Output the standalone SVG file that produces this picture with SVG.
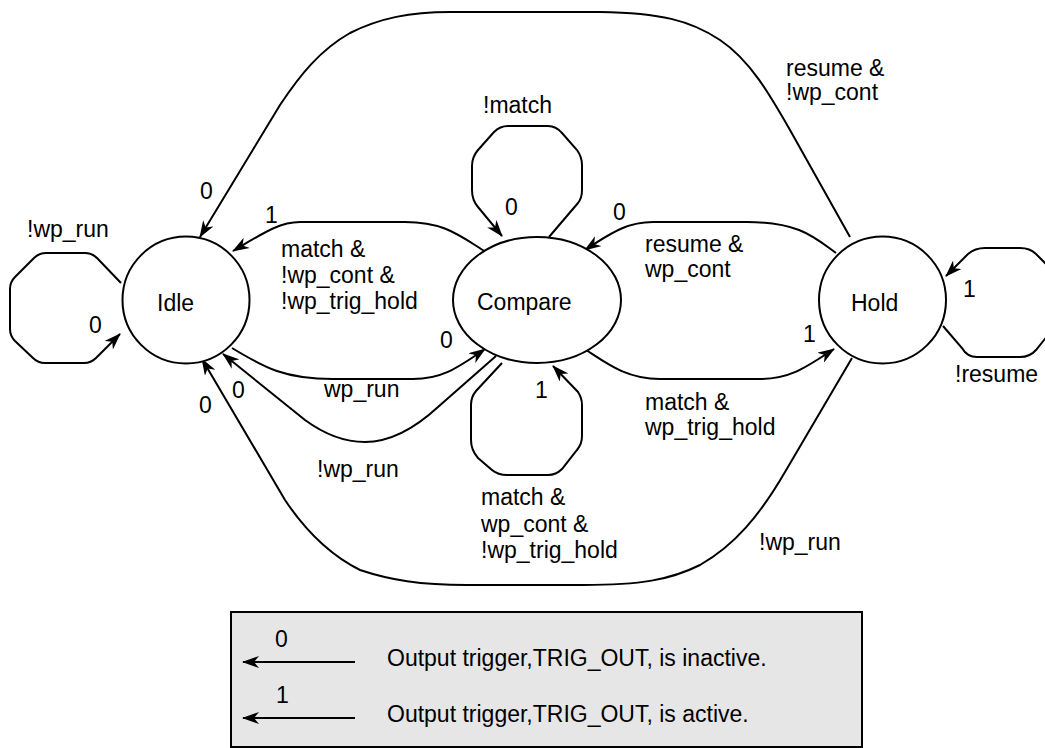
<svg xmlns="http://www.w3.org/2000/svg" width="1045" height="748" viewBox="0 0 1045 748">
<style>
text{font-family:"Liberation Sans",Arial,sans-serif;font-size:23px;fill:#000}
.node{fill:#fff;stroke:#000;stroke-width:2}
.edge{fill:none;stroke:#000;stroke-width:2;marker-end:url(#ah)}
</style>
<defs>
<marker id="ah" markerUnits="userSpaceOnUse" markerWidth="18" markerHeight="12" refX="16" refY="6" orient="auto">
<path d="M0,0 L17,6 L0,12 L5,6 z" fill="#000"/>
</marker>
</defs>
<rect width="1045" height="748" fill="#fff"/>
<g id="connectors">
<path class="edge" d="M121,283 L97,258 Q92,253 85,253 L46,253 Q39,253 34,258 L15,277 Q10,282 10,289 L10,329 Q10,336 15,341 L33,358 Q38,363 45,363 L84,363 Q91,363 96,358 L120,334"/>
<path class="edge" d="M549,237 L578,203 Q582,198 582,190 L582,165 Q582,157 577,150 L562,133 Q556,126 548,126 L508,126 Q500,126 494,132 L478,150 Q472,157 472,166 L472,190 Q472,200 478,207 L502,236"/>
<path class="edge" d="M502,363 L476,391 Q471,397 471,405 L471,440 Q471,450 478,458 L492,470 Q498,475 507,475 L548,475 Q556,475 562,469 L577,450 Q582,444 582,436 L582,405 Q582,398 578,392 L553,366"/>
<path class="edge" d="M943,326 L962,348 Q967,357 977,357 L1020,357 Q1030,357 1036,350 L1048,335 L1052,300 L1048,266 L1036,254 Q1030,248 1020,248 L985,248 Q975,248 968,254 L946,276"/>
<path class="edge" d="M486,252 C460,236 445,222 405,222 L300,222 C280,222 265,232 233,251"/>
<path class="edge" d="M232,348 C265,368 285,379 333,379 L413,379 C440,379 455,370 485,349"/>
<path class="edge" d="M496,356 L438,407 Q400,442 365,442 Q335,442 305,420 L223,354"/>
<path class="edge" d="M836,253 C815,238 800,222 747,222 L653,222 C630,222 615,230 585,250"/>
<path class="edge" d="M583,348 C605,362 625,379 660,379 L760,379 C790,379 805,368 834,349"/>
<path class="edge" d="M850,237 L790,130 C770,95 750,60 720,40 C690,20 660,13 600,12 L450,12 C410,12 380,18 350,33 C320,50 300,75 280,105 L200,237"/>
<path class="edge" d="M852,358 L785,472 C760,515 735,545 700,565 C670,580 640,585 583,585 L467,585 C420,585 390,580 360,570 C330,555 305,530 285,500 L202,359"/>
</g>
<g id="idle"><circle class="node" cx="186" cy="300" r="63.5"/><text x="157" y="311">Idle</text></g>
<g id="compare"><ellipse class="node" cx="537" cy="300" rx="84" ry="63"/><text x="477" y="310">Compare</text></g>
<g id="hold"><circle class="node" cx="882.5" cy="300" r="63.5"/><text x="851" y="311">Hold</text></g>
<g id="labels">
<text x="27" y="237">!wp_run</text>
<text x="89" y="333">0</text>
<text x="200" y="199">0</text>
<text x="265" y="223">1</text>
<text x="281" y="257">match &amp;</text>
<text x="281" y="283">!wp_cont &amp;</text>
<text x="281" y="309">!wp_trig_hold</text>
<text x="483" y="113">!match</text>
<text x="505" y="215">0</text>
<text x="613" y="220">0</text>
<text x="645" y="252">resume &amp;</text>
<text x="645" y="277">wp_cont</text>
<text x="786" y="76">resume &amp;</text>
<text x="786" y="100">!wp_cont</text>
<text x="963" y="297">1</text>
<text x="955" y="382">!resume</text>
<text x="440" y="348">0</text>
<text x="324" y="397">wp_run</text>
<text x="232" y="398">0</text>
<text x="199" y="413">0</text>
<text x="317" y="477">!wp_run</text>
<text x="535" y="398">1</text>
<text x="481" y="505">match &amp;</text>
<text x="481" y="532">wp_cont &amp;</text>
<text x="481" y="558">!wp_trig_hold</text>
<text x="803" y="342">1</text>
<text x="645" y="410">match &amp;</text>
<text x="645" y="435">wp_trig_hold</text>
<text x="759" y="550">!wp_run</text>
</g>
<g id="legend">
<rect x="231" y="612" width="631" height="135" fill="#e6e6e6" stroke="#000" stroke-width="2"/>
<path class="edge" d="M355,662 L243,662"/>
<path class="edge" d="M355,718 L243,718"/>
<text x="275" y="647">0</text>
<text x="276" y="703">1</text>
<text x="387" y="666">Output trigger,TRIG_OUT, is inactive.</text>
<text x="387" y="722">Output trigger,TRIG_OUT, is active.</text>
</g>
</svg>
